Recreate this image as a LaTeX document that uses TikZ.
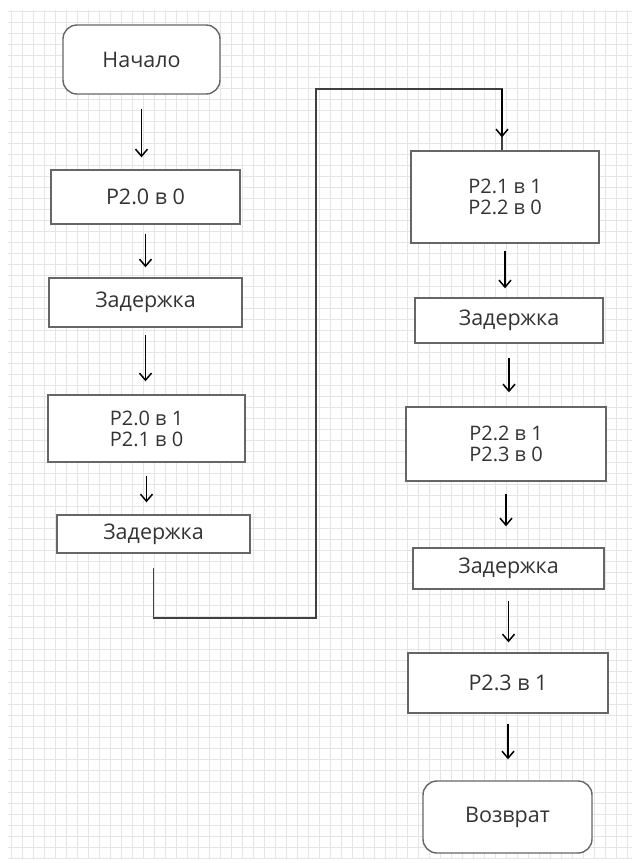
\documentclass[tikz,border=0pt]{standalone}
\usepackage{fontspec}
\setmainfont{Open Sans}
\usetikzlibrary{arrows.meta,positioning,calc}

\tikzset{
  blk/.style={draw=black!60, line width=1.4pt, fill=white, text=black!80,
    inner sep=0pt, align=center, font=\fontsize{21.5}{19}\selectfont},
  twoline/.style={font=\fontsize{20}{21}\selectfont},
  term/.style={blk, rounded corners=14pt},
  arr/.style={-{Straight Barb[length=7pt,width=12pt,line width=1.5pt]}, line width=1.2pt},
  gridline/.style={black!10, line width=0.6pt}
}

\begin{document}
\begin{tikzpicture}[x=1pt, y=1pt]
    \useasboundingbox[fill=white] (0, 0) rectangle (632, -863);
    \draw[gridline, step=11pt] (8, -858) grid (632, -10);

    % Left column
    \node[term, minimum width=157pt, minimum height=69pt] (start) at (141.5, -59.5) {Начало};
    \node[blk, minimum width=189pt, minimum height=54pt] (b1) at (145.5, -197) {P2.0 в 0};
    \node[blk, minimum width=193pt, minimum height=49pt] (d1) at (145.5, -302.5) {Задержка};
    \node[blk, twoline, minimum width=197pt, minimum height=67pt] (b2) at (146.5, -428.5) {P2.0 в 1\\P2.1 в 0};
    \node[blk, minimum width=193pt, minimum height=38pt] (d2) at (153.5, -534) {Задержка};

    % Right column
    \node[blk, twoline, minimum width=188pt, minimum height=92pt] (b3) at (505, -197) {P2.1 в 1\\P2.2 в 0};
    \node[blk, minimum width=188pt, minimum height=45pt] (d3) at (509, -320.5) {Задержка};
    \node[blk, twoline, minimum width=200pt, minimum height=74pt] (b4) at (506, -444) {P2.2 в 1\\P2.3 в 0};
    \node[blk, minimum width=191pt, minimum height=41pt] (d4) at (508.5, -568.5) {Задержка};
    \node[blk, minimum width=200pt, minimum height=60pt] (b5) at (508, -683) {P2.3 в 1};
    \node[term, minimum width=169pt, minimum height=72pt] (end) at (507.5, -817) {Возврат};

    % Arrows
    \draw[arr, shorten <=14pt, shorten >=12pt] (start.south) -- (start.south |- b1.north);
    \draw[arr, shorten <=9pt, shorten >=10pt] (b1.south) -- (b1.south |- d1.north);
    \draw[arr, shorten <=7pt, shorten >=13pt] (d1.south) -- (d1.south |- b2.north);
    \draw[arr, shorten <=13pt, shorten >=12pt] (b2.south) -- (b2.south |- d2.north);
    \draw[arr, shorten <=7pt, shorten >=9pt] (b3.south) -- (b3.south |- d3.north);
    \draw[arr, shorten <=14pt, shorten >=14pt] (d3.south) -- (d3.south |- b4.north);
    \draw[arr, shorten <=12pt, shorten >=21pt] (b4.south) -- (b4.south |- d4.north);
    \draw[arr, shorten <=11pt, shorten >=10pt] (d4.south) -- (d4.south |- b5.north);
    \draw[arr, shorten <=10pt, shorten >=21pt] (b5.south) -- (b5.south |- end.north);

    % Jump to the right column
    \coordinate (c1) at (316, -618);
    \coordinate (c2) at (316, -89);
    \draw[black!75, line width=1.2pt] ([yshift=-14pt]d2.south) |- (c1) -- (c2) -| ([xshift=-3pt]b3.north);
    \draw[arr] ([xshift=-3pt]b3.north |- c2) -- ([xshift=-3pt,yshift=13pt]b3.north);
\end{tikzpicture}
\end{document}
